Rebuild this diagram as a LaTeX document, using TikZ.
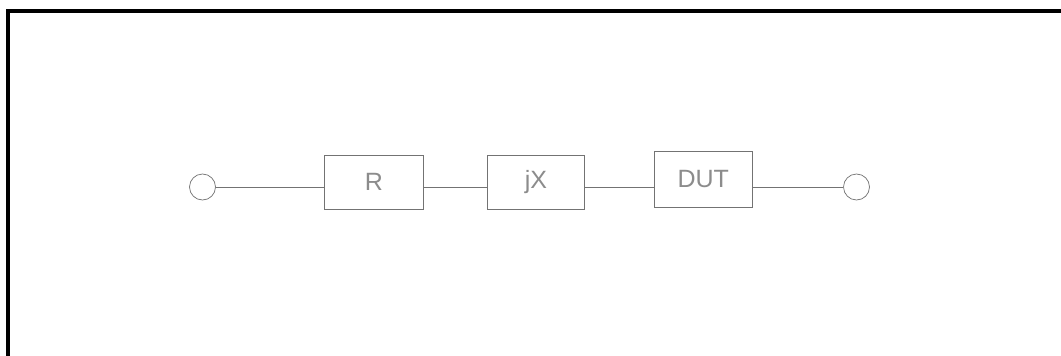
\documentclass[tikz,border=0pt]{standalone}
\usepackage{fontspec}
\setmainfont{Liberation Sans}
\usetikzlibrary{positioning}
\definecolor{linegray}{gray}{0.45}
\definecolor{textgray}{gray}{0.55}
\tikzset{
    block/.style={draw=linegray, line width=0.8pt, inner sep=0pt, text=textgray, font=\fontsize{25}{28}\selectfont},
    terminal/.style={draw=linegray, circle, line width=0.7pt, inner sep=0pt, minimum size=26pt},
    wire/.style={draw=linegray, line width=0.9pt}
}
\begin{document}
\begin{tikzpicture}[x=1pt,y=-1pt]
    \useasboundingbox (0,0) rectangle (1061,356);
    \fill[white] (0,0) rectangle (1061,356);
    % outer frame, only two sides show
    \draw[line width=4pt] (8,356) -- (8,10.5) -- (1061,10.5);

    \node[terminal] (in) at (202.5,187) {};
    \node[block, minimum width=99pt, minimum height=54pt] (r) at (373.8,182) {R};
    \node[block, minimum width=97pt, minimum height=54pt] (jx) at (536,182) {jX};
    \node[block, minimum width=98pt, minimum height=55.5pt] (dut) at (703.3,179.5) {DUT};
    \node[terminal] (out) at (856.5,187) {};

    \draw[wire] (in.east) -- (in.east -| r.west);
    \draw[wire] (r.east |- in.east) -- (jx.west |- in.east);
    \draw[wire] (jx.east |- in.east) -- (dut.west |- in.east);
    \draw[wire] (dut.east |- in.east) -- (out.west);
\end{tikzpicture}
\end{document}
